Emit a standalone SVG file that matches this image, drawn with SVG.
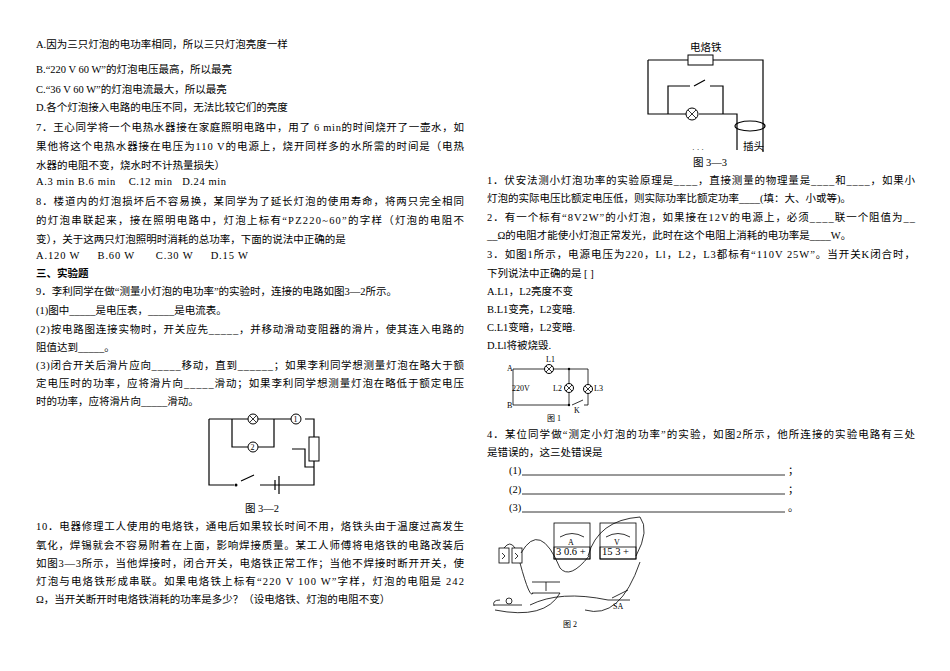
<svg xmlns="http://www.w3.org/2000/svg" width="950" height="671" viewBox="0 0 950 671">
<style>
text{font-family:"Liberation Serif","Noto Sans CJK SC",serif;font-size:10.5px;fill:#000}
.s{font-size:8px}
.w{stroke:#000;stroke-width:1.2;fill:none}
.t{stroke:#000;stroke-width:0.8;fill:none}
.l{fill:#fff;stroke:#000;stroke-width:1}
</style>
<rect width="950" height="671" fill="#fff"/>
<g id="left-text">
<text x="36" y="48">A.因为三只灯泡的电功率相同，所以三只灯泡亮度一样</text>
<text x="36" y="73">B.“220 V 60 W”的灯泡电压最高，所以最亮</text>
<text x="36" y="93">C.“36 V 60 W”的灯泡电流最大，所以最亮</text>
<text x="36" y="111">D.各个灯泡接入电路的电压不同，无法比较它们的亮度</text>
<text x="36" y="131" textLength="428">7．王心同学将一个电热水器接在家庭照明电路中，用了 6 min的时间烧开了一壶水，如</text>
<text x="36" y="150" textLength="428">果他将这个电热水器接在电压为110 V的电源上，烧开同样多的水所需的时间是（电热</text>
<text x="36" y="169">水器的电阻不变，烧水时不计热量损失）</text>
<text x="36" y="185" xml:space="preserve" textLength="190">A.3 min B.6 min    C.12 min   D.24 min</text>
<text x="36" y="205" textLength="428">8．楼道内的灯泡损坏后不容易换，某同学为了延长灯泡的使用寿命，将两只完全相同</text>
<text x="36" y="224" textLength="428">的灯泡串联起来，接在照明电路中，灯泡上标有“PZ220~60”的字样（灯泡的电阻不</text>
<text x="36" y="243">变），关于这两只灯泡照明时消耗的总功率，下面的说法中正确的是</text>
<text x="36" y="259" xml:space="preserve" textLength="212">A.120 W     B.60 W      C.30 W     D.15 W</text>
<text x="36" y="277" font-weight="bold">三、实验题</text>
<text x="36" y="295">9．李利同学在做“测量小灯泡的电功率”的实验时，连接的电路如图3—2所示。</text>
<text x="36" y="314">(1)图中_____是电压表，_____是电流表。</text>
<text x="36" y="333" textLength="428">(2)按电路图连接实物时，开关应先_____，并移动滑动变阻器的滑片，使其连入电路的</text>
<text x="36" y="351">阻值达到_____。</text>
<text x="36" y="369" textLength="428">(3)闭合开关后滑片应向_____移动，直到______；如果李利同学想测量灯泡在略大于额</text>
<text x="36" y="387" textLength="428">定电压时的功率，应将滑片向_____滑动；如果李利同学想测量灯泡在略低于额定电压</text>
<text x="36" y="405">时的功率，应将滑片向_____滑动。</text>
<text x="245" y="512">图 3—2</text>
<text x="36" y="530" textLength="428">10．电器修理工人使用的电烙铁，通电后如果较长时间不用，烙铁头由于温度过高发生</text>
<text x="36" y="549" textLength="428">氧化，焊锡就会不容易附着在上面，影响焊接质量。某工人师傅将电烙铁的电路改装后</text>
<text x="36" y="567" textLength="428">如图3—3所示，当他焊接时，闭合开关，电烙铁正常工作；当他不焊接时断开开关，使</text>
<text x="36" y="585" textLength="428">灯泡与电烙铁形成串联。如果电烙铁上标有“220 V 100 W”字样，灯泡的电阻是 242</text>
<text x="36" y="603">Ω，当开关断开时电烙铁消耗的功率是多少？（设电烙铁、灯泡的电阻不变）</text>
</g>
<g id="fig3-2">
<path class="w" d="M209 419H296M305 419H314V437M314 461V470M232 419V447H248M258 447H274V419M209 419V485H234M241 481L254 475M275 485H314V470M292 449H305V467H314"/>
<rect class="l" x="309" y="437" width="10" height="24"/>
<circle class="l" cx="253" cy="419" r="5"/><path class="t" d="M249.5 415.5l7 7M256.5 415.5l-7 7"/>
<circle class="l" cx="296" cy="419" r="5"/><text class="s" x="293.5" y="422">1</text>
<circle class="l" cx="253" cy="447" r="5"/><text class="s" x="250.5" y="450">2</text>
<circle cx="236" cy="485" r="1.5" fill="#000"/>
<path class="w" d="M260 485H275M275 480V490M279 476V494" stroke-width="1.5"/>
</g>
<g id="fig3-3">
<text x="690" y="51" font-size="9.5">电烙铁</text>
<path class="w" d="M648 60H688M713 60H763V152M648 60V114H692M699 114H737V130M668 114V86H690M694 86L705 80M710 86H723V114"/>
<rect class="l" x="688" y="55" width="25" height="10"/>
<circle class="l" cx="692" cy="114" r="6"/><path class="t" d="M688 110l8 8M696 110l-8 8"/>
<ellipse class="w" cx="750" cy="126" rx="15" ry="5"/>
<path class="w" d="M737 130V150"/>
<text x="743" y="150" font-size="9.5">插头</text>
<text x="692" y="152" class="s">· · ·</text>
<text x="693" y="166">图 3—3</text>
</g>
<g id="right-text">
<text x="487" y="184" textLength="428">1．伏安法测小灯泡功率的实验原理是____，直接测量的物理量是____和____，如果小</text>
<text x="487" y="202">灯泡的实际电压比额定电压低，则实际功率比额定功率____(填：大、小或等)。</text>
<text x="487" y="221" textLength="428">2．有一个标有“8V2W”的小灯泡，如果接在12V的电源上，必须____联一个阻值为__</text>
<text x="487" y="239">__Ω的电阻才能使小灯泡正常发光，此时在这个电阻上消耗的电功率是____W。</text>
<text x="487" y="258" textLength="428">3．如图1所示，电源电压为220，Ll，L2，L3都标有“110V 25W”。当开关K闭合时，</text>
<text x="487" y="277">下列说法中正确的是 [  ]</text>
<text x="487" y="295">A.L1，L2亮度不变</text>
<text x="487" y="313">B.L1变亮，L2变暗.</text>
<text x="487" y="331">C.L1变暗，L2变暗.</text>
<text x="487" y="349">D.Ll将被烧毁.</text>
<text x="487" y="438" textLength="428">4．某位同学做“测定小灯泡的功率”的实验，如图2所示，他所连接的实验电路有三处</text>
<text x="487" y="456">是错误的，这三处错误是</text>
<text x="509" y="474">(1)</text><path class="t" d="M522 475H785"/><text x="788" y="474">；</text>
<text x="509" y="493">(2)</text><path class="t" d="M522 494H785"/><text x="788" y="493">；</text>
<text x="509" y="511">(3)</text><path class="t" d="M522 512H785"/><text x="788" y="511">。</text>
</g>
<g id="fig1">
<path class="t" d="M513 369H588V385M588 393V405H584M572 405L583 400M569 369V384M569 392V405H513V369"/>
<circle class="l" cx="549" cy="369" r="4.5"/><path class="t" d="M546 366l6 6M552 366l-6 6"/>
<circle class="l" cx="569" cy="388" r="4.5"/><path class="t" d="M566 385l6 6M572 385l-6 6"/>
<circle class="l" cx="588" cy="389" r="4.5"/><path class="t" d="M585 386l6 6M591 386l-6 6"/>
<circle cx="569" cy="369" r="1.2"/><circle cx="569" cy="405" r="1.2"/>
<text class="s" x="507" y="371">A</text><text class="s" x="507" y="408">B</text>
<text class="s" x="512" y="391">220V</text>
<text class="s" x="546" y="362">L1</text><text class="s" x="553" y="391">L2</text><text class="s" x="594" y="391">L3</text>
<text class="s" x="574" y="413">K</text>
<text class="s" x="547" y="421">图 1</text>
</g>
<g id="fig2">
<rect class="t" x="554" y="523" width="36" height="36"/><rect class="t" x="554" y="547" width="36" height="12"/>
<path class="t" d="M560 537Q572 530 584 537"/><text class="s" x="568" y="545">A</text>
<text x="556" y="555" font-size="6">3 0.6 +</text>
<rect class="t" x="600" y="523" width="36" height="36"/><rect class="t" x="600" y="547" width="36" height="12"/>
<path class="t" d="M606 537Q618 530 630 537"/><text class="s" x="614" y="545">V</text>
<text x="602" y="555" font-size="6">15  3  +</text>
<rect class="t" x="499" y="548" width="10" height="15"/><rect class="t" x="512" y="548" width="10" height="15"/>
<path class="t" d="M502 553l3 3-3 3M515 553l3 3-3 3"/>
<path class="t" d="M532 582H560M546 582V591M532 593H560"/>
<circle class="t" cx="509" cy="601" r="3"/>
<path class="t" d="M494 605H522M608 600H630"/>
<path class="t" d="M612 598L628 590"/>
<text class="s" x="613" y="609">SA</text>
<path class="t" d="M588 556Q598 520 640 517Q650 530 636 556M521 553Q540 520 560 568Q570 580 589 556M504 548Q510 540 515 548M520 563Q530 600 533 593M560 593Q545 620 495 610M585 610Q620 620 640 562M530 605Q560 590 608 600M494 606Q492 600 500 600"/>
<text class="s" x="563" y="627">图 2</text>
</g>
</svg>
